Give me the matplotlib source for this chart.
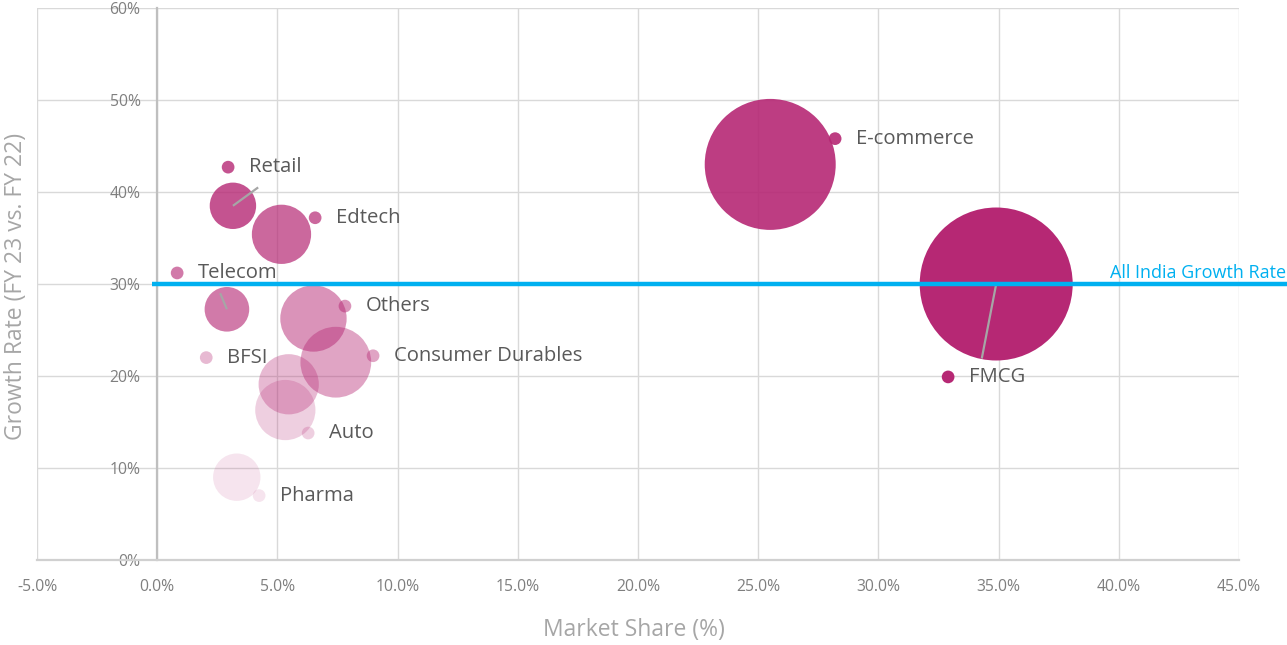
import matplotlib
matplotlib.use("Agg")
import matplotlib.pyplot as plt
from matplotlib.ticker import FuncFormatter, MultipleLocator

# ---------------- data ----------------
sectors = ["FMCG", "E-commerce", "Retail", "Edtech", "Telecom", "Others",
           "Consumer Durables", "BFSI", "Auto", "Pharma"]
market_share = [34.9, 25.5, 3.15, 5.17, 2.9, 6.5, 7.43, 5.47, 5.33, 3.31]   # %
growth_rate = [30.0, 43.0, 38.5, 35.4, 27.25, 26.25, 21.5, 19.1, 16.3, 9.0]  # %
bubble_size = [100, 73.3, 9.2, 15.0, 8.5, 18.8, 21.4, 15.5, 15.5, 9.6]       # relative
all_india_growth = 30.0

# ---------------- layout / style ----------------
base_color = "#B62874"
alphas = [1.0, 0.9, 0.8, 0.7, 0.62, 0.5, 0.42, 0.32, 0.22, 0.12]
# label marker positions (data coords) for each sector's label
label_pos = {
    "FMCG": (32.9, 19.9),
    "E-commerce": (28.2, 45.8),
    "Retail": (2.95, 42.7),
    "Edtech": (6.57, 37.2),
    "Telecom": (0.83, 31.2),
    "Others": (7.81, 27.6),
    "Consumer Durables": (8.98, 22.2),
    "BFSI": (2.04, 22.0),
    "Auto": (6.28, 13.8),
    "Pharma": (4.24, 7.0),
}
# leader lines: end point, drawn from bubble centre
leaders = {
    "Retail": (4.2, 40.5),
    "Telecom": (2.62, 29.0),
    "FMCG": (34.3, 21.9),
}

W, H, DPI = 12.87, 6.45, 100
font = "Open Sans"
plt.rcParams["font.family"] = [font, "DejaVu Sans"]

fig = plt.figure(figsize=(W, H), dpi=DPI)
ax = fig.add_axes([37 / 1287, 1 - 560 / 645, (1239 - 37) / 1287, (560 - 8) / 645])

ax.set_xlim(-5, 45)
ax.set_ylim(0, 60)
ax.xaxis.set_major_locator(MultipleLocator(5))
ax.yaxis.set_major_locator(MultipleLocator(10))
ax.xaxis.set_major_formatter(FuncFormatter(lambda v, p: f"{v:.1f}%"))
ax.yaxis.set_major_formatter(FuncFormatter(lambda v, p: f"{v:.0f}%"))
ax.grid(True, color="#D9D9D9", linewidth=1.0, zorder=0)
ax.set_axisbelow(True)

for s in ["top", "right"]:
    ax.spines[s].set_visible(False)
ax.spines["left"].set_position(("data", 0))
ax.spines["left"].set_color("#BFBFBF")
ax.spines["left"].set_linewidth(1.6)
ax.spines["bottom"].set_color("#D0D0D0")
ax.spines["bottom"].set_linewidth(1.6)
ax.tick_params(axis="both", length=0, colors="#7F7F7F", labelsize=11.3)
ax.tick_params(axis="x", pad=13.5)
ax.tick_params(axis="y", pad=12)

px2pt = 72 / DPI
scale = (153 * px2pt) ** 2 / 100.0

for i, name in enumerate(sectors):
    ax.scatter(market_share[i], growth_rate[i], s=bubble_size[i] * scale,
               color=base_color, alpha=alphas[i], edgecolors="none", zorder=3)

for name, (lx, ly) in leaders.items():
    i = sectors.index(name)
    ax.plot([market_share[i], lx], [growth_rate[i], ly], color="#A6A6A6",
            linewidth=1.6, zorder=4, solid_capstyle="butt")

# all india growth line (extends past the plot area to the figure edge)
ax.plot([-0.2, 47.2], [all_india_growth, all_india_growth], color="#00B0F0",
        linewidth=3.2, clip_on=False, zorder=5, solid_capstyle="butt")
fig.text(1286 / 1287, 1 - 278 / 645, "All India Growth Rate", ha="right",
         va="baseline", color="#00B0F0", fontsize=13)

# labels with dots
for i, name in enumerate(sectors):
    lx, ly = label_pos[name]
    ax.scatter(lx, ly, s=(12.7 * px2pt) ** 2, color=base_color, alpha=alphas[i],
               edgecolors="none", zorder=6)
    ax.annotate(name, (lx, ly), xytext=(21 * px2pt, 0), textcoords="offset points",
                ha="left", va="center", fontsize=14.6, color="#595959", zorder=7)

fig.text(634 / 1287, 1 - 630 / 645, "Market Share (%)", ha="center", va="center",
         fontsize=16.5, color="#A6A6A6")
fig.text(16 / 1287, 1 - 286 / 645, "Growth Rate (FY 23 vs. FY 22)", ha="center",
         va="center", rotation=90, fontsize=16.5, color="#A6A6A6")

fig.savefig("out.png", dpi=DPI)
